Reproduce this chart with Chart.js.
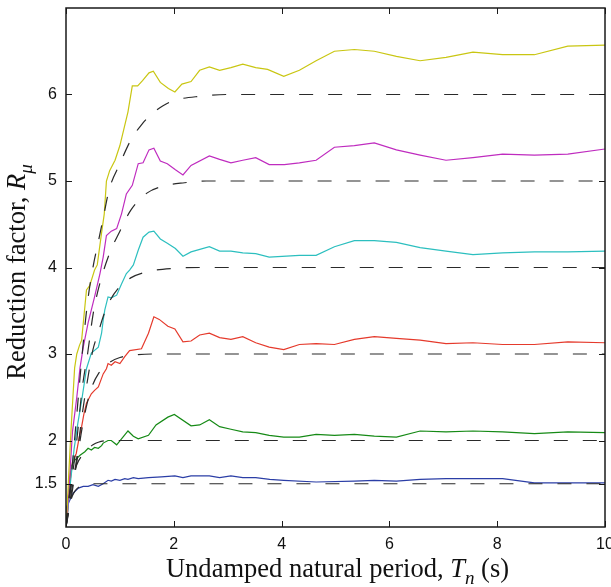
<!DOCTYPE html>
<html>
<head>
<meta charset="utf-8">
<script src="https://cdn.jsdelivr.net/npm/chart.js@4.4.1/dist/chart.umd.min.js"></script>
<style>
  html, body { margin: 0; padding: 0; background: #fff; overflow: hidden; }
  #wrap { width: 611px; height: 587px; }
</style>
</head>
<body>
<div id="wrap"><canvas id="chart" width="611" height="587"></canvas></div>
<script>
// ductility 6 (yellow)
const t6 = [0, 0.02, 0.05, 0.1, 0.16, 0.2, 0.25, 0.29, 0.38, 0.44, 0.53, 0.58, 0.66, 0.71, 0.75, 0.81, 0.91, 1.0, 1.15, 1.23, 1.33, 1.42, 1.54, 1.62, 1.75, 1.9, 2.02, 2.15, 2.32, 2.48, 2.66, 2.85, 3.06, 3.28, 3.52, 3.74, 4.04, 4.33, 4.64, 4.98, 5.35, 5.72, 6.13, 6.57, 7.05, 7.55, 8.1, 8.69, 9.31, 10];
const r6 = [1.05, 1.2, 1.6, 2.2, 2.84, 3.0, 3.1, 3.16, 3.74, 3.79, 3.97, 4.03, 4.4, 4.62, 5.0, 5.12, 5.24, 5.41, 5.8, 6.1, 6.1, 6.16, 6.25, 6.27, 6.14, 6.07, 6.03, 6.12, 6.15, 6.28, 6.32, 6.28, 6.31, 6.35, 6.31, 6.29, 6.21, 6.28, 6.39, 6.5, 6.52, 6.5, 6.44, 6.39, 6.43, 6.49, 6.46, 6.46, 6.56, 6.57];

// ductility 5 (magenta)
const t5 = [0, 0.02, 0.07, 0.12, 0.2, 0.26, 0.32, 0.41, 0.47, 0.53, 0.63, 0.69, 0.75, 0.84, 0.94, 1.03, 1.12, 1.23, 1.34, 1.43, 1.54, 1.63, 1.75, 1.88, 2.03, 2.17, 2.32, 2.66, 2.85, 3.06, 3.28, 3.52, 3.77, 4.05, 4.33, 4.64, 4.98, 5.35, 5.72, 6.13, 6.57, 7.05, 7.55, 8.1, 8.69, 9.31, 10];
const r5 = [1.05, 1.1, 1.6, 2.1, 2.5, 2.84, 3.08, 3.36, 3.51, 3.66, 3.93, 4.12, 4.37, 4.42, 4.45, 4.62, 4.85, 4.95, 5.2, 5.21, 5.36, 5.38, 5.23, 5.2, 5.13, 5.07, 5.18, 5.29, 5.25, 5.21, 5.24, 5.27, 5.19, 5.19, 5.21, 5.24, 5.39, 5.41, 5.44, 5.36, 5.3, 5.24, 5.27, 5.31, 5.3, 5.31, 5.37];

// ductility 4 (cyan)
const t4 = [0, 0.02, 0.08, 0.15, 0.22, 0.3, 0.38, 0.47, 0.6, 0.66, 0.69, 0.72, 0.78, 0.84, 0.94, 1.03, 1.12, 1.18, 1.25, 1.34, 1.43, 1.54, 1.63, 1.75, 1.88, 2.03, 2.17, 2.32, 2.66, 2.85, 3.06, 3.28, 3.52, 3.77, 4.33, 4.64, 4.98, 5.35, 5.72, 6.13, 6.57, 7.05, 7.55, 8.1, 8.69, 9.31, 10];
const r4 = [1.05, 1.1, 1.5, 1.9, 2.2, 2.5, 2.83, 3.01, 3.08, 3.24, 3.39, 3.51, 3.66, 3.65, 3.68, 3.81, 3.93, 3.97, 4.03, 4.2, 4.35, 4.41, 4.42, 4.33, 4.28, 4.22, 4.13, 4.18, 4.24, 4.19, 4.19, 4.17, 4.16, 4.12, 4.14, 4.14, 4.24, 4.31, 4.31, 4.29, 4.23, 4.19, 4.15, 4.17, 4.18, 4.18, 4.19];

// ductility 3 (red)
const t3 = [0, 0.02, 0.07, 0.12, 0.19, 0.25, 0.29, 0.33, 0.38, 0.47, 0.53, 0.6, 0.69, 0.75, 0.78, 0.84, 0.91, 1.0, 1.09, 1.18, 1.4, 1.53, 1.63, 1.73, 1.89, 2.02, 2.17, 2.32, 2.48, 2.66, 2.85, 3.06, 3.28, 3.52, 3.77, 4.04, 4.33, 4.64, 4.98, 5.35, 5.72, 6.13, 6.57, 7.05, 7.55, 8.1, 8.69, 9.31, 10];
const r3 = [1.05, 1.1, 1.5, 1.75, 1.85, 2.05, 2.16, 2.3, 2.43, 2.54, 2.58, 2.62, 2.77, 2.83, 2.89, 2.87, 2.91, 2.89, 2.97, 3.04, 3.06, 3.24, 3.43, 3.4, 3.32, 3.29, 3.14, 3.15, 3.22, 3.24, 3.19, 3.17, 3.2, 3.13, 3.08, 3.05, 3.11, 3.12, 3.11, 3.17, 3.2, 3.18, 3.16, 3.12, 3.13, 3.11, 3.11, 3.14, 3.13];

// ductility 2 (green)
const t2 = [0, 0.02, 0.05, 0.1, 0.16, 0.26, 0.35, 0.41, 0.47, 0.53, 0.6, 0.66, 0.69, 0.78, 0.84, 0.94, 1.03, 1.15, 1.25, 1.34, 1.53, 1.67, 1.89, 2.01, 2.32, 2.48, 2.66, 2.85, 3.06, 3.28, 3.52, 3.77, 4.04, 4.33, 4.64, 4.98, 5.35, 5.72, 6.13, 6.57, 7.05, 7.55, 8.1, 8.69, 9.31, 10];
const r2 = [1.05, 1.1, 1.4, 1.7, 1.77, 1.83, 1.87, 1.91, 1.89, 1.92, 1.91, 1.94, 1.97, 2.0, 2.0, 1.95, 2.02, 2.11, 2.05, 2.02, 2.06, 2.18, 2.27, 2.3, 2.17, 2.18, 2.24, 2.16, 2.13, 2.1, 2.09, 2.06, 2.04, 2.04, 2.07, 2.06, 2.07, 2.05, 2.04, 2.11, 2.1, 2.11, 2.1, 2.08, 2.1, 2.09];

// ductility 1.5 (blue)
const t15 = [0, 0.01, 0.07, 0.13, 0.23, 0.32, 0.41, 0.5, 0.6, 0.69, 0.78, 0.84, 0.91, 1.0, 1.09, 1.15, 1.25, 1.34, 1.53, 1.77, 2.02, 2.17, 2.32, 2.66, 2.85, 3.06, 3.28, 3.52, 3.78, 4.04, 4.64, 5.35, 5.72, 6.13, 6.57, 7.05, 7.55, 8.1, 8.69, 9.31, 10];
const r15 = [1.05, 1.23, 1.31, 1.39, 1.45, 1.47, 1.47, 1.49, 1.47, 1.5, 1.54, 1.53, 1.55, 1.54, 1.56, 1.55, 1.57, 1.56, 1.57, 1.58, 1.59, 1.57, 1.59, 1.59, 1.57, 1.59, 1.57, 1.57, 1.55, 1.54, 1.52, 1.53, 1.54, 1.53, 1.55, 1.56, 1.56, 1.56, 1.51, 1.51, 1.51];

// dashed reference curves
const refT6 = [0, 0.1, 0.2, 0.3, 0.4, 0.5, 0.6, 0.7, 0.8, 1.0, 1.2, 1.4, 1.6, 1.8, 2.0, 2.5, 3.0, 10];
const refR6 = [1, 1.6, 2.3, 3.0, 3.6, 4.0, 4.3, 4.6, 4.9, 5.2, 5.47, 5.65, 5.78, 5.87, 5.93, 5.98, 6.0, 6.0];
const refT5 = [0, 0.1, 0.2, 0.3, 0.4, 0.5, 0.6, 0.8, 1.0, 1.2, 1.5, 1.8, 2.2, 2.6, 10];
const refR5 = [1, 1.5, 2.0, 2.6, 3.0, 3.45, 3.75, 4.15, 4.42, 4.66, 4.86, 4.94, 4.98, 5.0, 5.0];
const refT4 = [0, 0.1, 0.2, 0.3, 0.4, 0.5, 0.6, 0.7, 0.8, 1.0, 1.2, 1.5, 2.0, 2.5, 10];
const refR4 = [1, 1.4, 1.8, 2.3, 2.7, 3.05, 3.25, 3.45, 3.6, 3.78, 3.88, 3.95, 3.99, 4.0, 4.0];
const refT3 = [0, 0.1, 0.2, 0.3, 0.4, 0.5, 0.6, 0.8, 1.0, 1.3, 1.6, 10];
const refR3 = [1, 1.35, 1.75, 2.15, 2.45, 2.65, 2.77, 2.9, 2.96, 2.99, 3.0, 3.0];
const refT2 = [0, 0.05, 0.1, 0.2, 0.3, 0.4, 0.5, 0.6, 0.8, 10];
const refR2 = [1, 1.3, 1.5, 1.72, 1.83, 1.9, 1.95, 1.98, 2.0, 2.0];
const refT15 = [0, 0.05, 0.1, 0.15, 0.2, 0.3, 0.5, 10];
const refR15 = [1, 1.2, 1.33, 1.4, 1.44, 1.48, 1.5, 1.5];

const yTicks = [1.5, 2, 3, 4, 5, 6];
const xTicks = [0, 2, 4, 6, 8, 10];

const pts = (t, r) => t.map((v, i) => ({ x: v, y: r[i] }));

const dashed = (t, r) => ({
  data: pts(t, r),
  borderColor: '#2a2a2a',
  borderWidth: 1.2,
  borderDash: [14, 15],
  pointRadius: 0,
  cubicInterpolationMode: 'monotone',
  fill: false
});

const solid = (t, r, color) => ({
  data: pts(t, r),
  borderColor: color,
  borderWidth: 1.2,
  pointRadius: 0,
  tension: 0,
  fill: false
});

// inward ticks on all four sides + box
const frameTicks = {
  id: 'frameTicks',
  afterDatasetsDraw(chart) {
    const { ctx, chartArea: a, scales } = chart;
    const len = 6;
    ctx.save();
    ctx.strokeStyle = '#1a1a1a';
    ctx.lineWidth = 1;
    ctx.beginPath();
    xTicks.forEach(v => {
      const px = Math.round(scales.x.getPixelForValue(v)) + 0.5;
      ctx.moveTo(px, a.bottom); ctx.lineTo(px, a.bottom - len);
      ctx.moveTo(px, a.top); ctx.lineTo(px, a.top + len);
    });
    yTicks.forEach(v => {
      const py = Math.round(scales.y.getPixelForValue(v)) + 0.5;
      ctx.moveTo(a.left, py); ctx.lineTo(a.left + len, py);
      ctx.moveTo(a.right, py); ctx.lineTo(a.right - len, py);
    });
    ctx.stroke();
    ctx.lineWidth = 1.5;
    ctx.strokeRect(a.left, a.top, a.right - a.left, a.bottom - a.top);
    ctx.restore();
  }
};

// axis titles with italic symbols and subscripts
const axisTitles = {
  id: 'axisTitles',
  afterDraw(chart) {
    const { ctx, chartArea: a } = chart;
    const fam = '"Liberation Serif", serif';
    const base = 20;
    const mk = (fs) => ({
      reg: fs + 'px ' + fam,
      ita: 'italic ' + fs + 'px ' + fam,
      sub: 'italic ' + Math.round(fs * 0.7) + 'px ' + fam,
      dy: fs * 0.28
    });
    const build = (f, parts) => parts.map(p => ({ text: p[0], font: f[p[1]], dy: p[1] === 'sub' ? f.dy : 0 }));
    const widthOf = (parts) => parts.reduce((s, p) => { ctx.font = p.font; return s + ctx.measureText(p.text).width; }, 0);
    const xSpec = [['Undamped natural period, ', 'reg'], ['T', 'ita'], ['n', 'sub'], [' (s)', 'reg']];
    const ySpec = [['Reduction factor, ', 'reg'], ['R', 'ita'], ['\u03bc', 'sub']];
    // fit the x title to its width in the figure
    const w0 = widthOf(build(mk(base), xSpec));
    const fs = base * 343 / w0;
    const f = mk(fs);
    const draw = (parts, cx, cy) => {
      let x = cx - widthOf(parts) / 2;
      parts.forEach(p => {
        ctx.font = p.font;
        ctx.fillText(p.text, x, cy + p.dy);
        x += ctx.measureText(p.text).width;
      });
    };
    ctx.save();
    ctx.fillStyle = '#111';
    ctx.textBaseline = 'alphabetic';
    draw(build(f, xSpec), (a.left + a.right) / 2 + 2, 577);
    ctx.translate(25, 272);
    ctx.rotate(-Math.PI / 2);
    draw(build(f, ySpec), 0, 0);
    ctx.restore();
  }
};

const ctx = document.getElementById('chart').getContext('2d');
new Chart(ctx, {
  type: 'line',
  data: {
    datasets: [
      dashed(refT6, refR6),
      dashed(refT5, refR5),
      dashed(refT4, refR4),
      dashed(refT3, refR3),
      dashed(refT2, refR2),
      dashed(refT15, refR15),
      solid(t6, r6, '#c9c612'),
      solid(t5, r5, '#bf2cbf'),
      solid(t4, r4, '#2cbfbf'),
      solid(t3, r3, '#e53a2c'),
      solid(t2, r2, '#168a16'),
      solid(t15, r15, '#2b3ea6')
    ]
  },
  options: {
    responsive: false,
    animation: false,
    layout: { padding: { top: 8, right: 6, left: 0, bottom: 0 } },
    plugins: { legend: { display: false }, tooltip: { enabled: false } },
    scales: {
      x: {
        type: 'linear',
        min: 0,
        max: 10,
        grid: { display: false, drawTicks: false },
        border: { display: false },
        afterBuildTicks: (s) => { s.ticks = xTicks.map(v => ({ value: v })); },
        afterFit: (s) => { s.height = 60; s.paddingLeft = 0; s.paddingRight = 0; },
        ticks: { color: '#111', padding: 8, maxRotation: 0, font: { family: '"Liberation Sans", Arial, sans-serif', size: 16 } }
      },
      y: {
        type: 'linear',
        min: 1,
        max: 7,
        grid: { display: false, drawTicks: false },
        border: { display: false },
        afterBuildTicks: (s) => { s.ticks = yTicks.map(v => ({ value: v })); },
        afterFit: (s) => { s.width = 66; s.paddingTop = 0; s.paddingBottom = 0; },
        ticks: { color: '#111', padding: 9, font: { family: '"Liberation Sans", Arial, sans-serif', size: 16 } }
      }
    }
  },
  plugins: [frameTicks, axisTitles]
});
</script>
</body>
</html>
